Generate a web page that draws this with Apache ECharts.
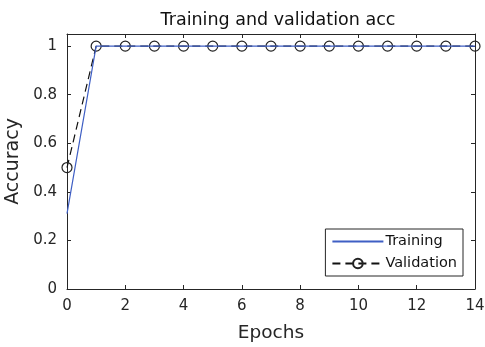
<!DOCTYPE html>
<html>
<head>
<meta charset="utf-8">
<script src="https://cdn.jsdelivr.net/npm/echarts@6/dist/echarts.min.js"></script>
<style>
  html, body { margin: 0; padding: 0; background: #fff; }
  #chart { width: 485px; height: 347px; }
</style>
</head>
<body>
<div id="chart"></div>
<script>
const epochs = [0, 1, 2, 3, 4, 5, 6, 7, 8, 9, 10, 11, 12, 13, 14];
const trainAcc = [0.31, 1, 1, 1, 1, 1, 1, 1, 1, 1, 1, 1, 1, 1, 1];
const valAcc = [0.5, 1, 1, 1, 1, 1, 1, 1, 1, 1, 1, 1, 1, 1, 1];

const font = '"DejaVu Sans", sans-serif';
const ink = '#262626';

const chart = echarts.init(document.getElementById('chart'));
const pair = arr => epochs.map((e, i) => [e, arr[i]]);

const tickAxis = {
    axisLine: { show: true, onZero: false, lineStyle: { color: ink, width: 1 } },
    axisTick: { show: true, inside: true, length: 4, lineStyle: { color: ink } },
    splitLine: { show: false },
};

chart.setOption({
    animation: false,
    textStyle: { fontFamily: font },
    title: {
        text: 'Training and validation acc',
        left: 273, top: 6, textAlign: 'center',
        textStyle: { fontFamily: font, fontSize: 17.5, fontWeight: 'normal', color: '#111' },
    },
    grid: { left: 67, right: 10, top: 34, bottom: 58, containLabel: false, outerBoundsMode: 'none' },
    legend: {
        right: 22, top: 229,
        orient: 'vertical',
        itemWidth: 51, itemHeight: 12, itemGap: 7,
        padding: [5, 6, 5, 6],
        borderColor: ink, borderWidth: 1,
        backgroundColor: '#fff',
        textStyle: { fontFamily: font, fontSize: 14.5, color: '#111', padding: [0, 0, 0, -3] },
        data: ['Training', 'Validation'],
    },
    xAxis: [
        {
            ...tickAxis, type: 'value', min: 0, max: 14, interval: 2,
            name: 'Epochs', nameLocation: 'middle', nameGap: 35,
            nameTextStyle: { fontFamily: font, fontSize: 18.5, color: ink },
            axisLabel: { fontFamily: font, fontSize: 15, color: ink, margin: 10 },
        },
        {
            ...tickAxis, type: 'value', position: 'top', min: 0, max: 14, interval: 2,
            axisLabel: { show: false },
        },
    ],
    yAxis: [
        {
            ...tickAxis, type: 'value', min: 0, max: 1.05, interval: 0.2,
            name: 'Accuracy', nameLocation: 'middle', nameGap: 33,
            nameTextStyle: { fontFamily: font, fontSize: 19, color: ink },
            axisLabel: {
                fontFamily: font, fontSize: 15, color: ink, margin: 10,
                formatter: v => (v > 1.01 ? '' : String(+v.toFixed(1))),
            },
        },
        {
            ...tickAxis, type: 'value', position: 'right', min: 0, max: 1.05, interval: 0.2,
            axisLabel: { show: false },
        },
    ],
    series: [
        {
            name: 'Training', type: 'line',
            data: pair(trainAcc),
            symbol: 'none',
            lineStyle: { color: '#3f5fc4', width: 1.2 },
            itemStyle: { color: 'rgba(0,0,0,0)', borderWidth: 0 },
            z: 3,
        },
        {
            name: 'Validation', type: 'line',
            data: pair(valAcc),
            symbol: 'circle', symbolSize: 10,
            lineStyle: { color: '#111', width: 1.2, type: [8, 5] },
            itemStyle: { color: 'rgba(255,255,255,0)', borderColor: '#222', borderWidth: 1.2 },
            z: 2,
        },
    ],
});
</script>
</body>
</html>
